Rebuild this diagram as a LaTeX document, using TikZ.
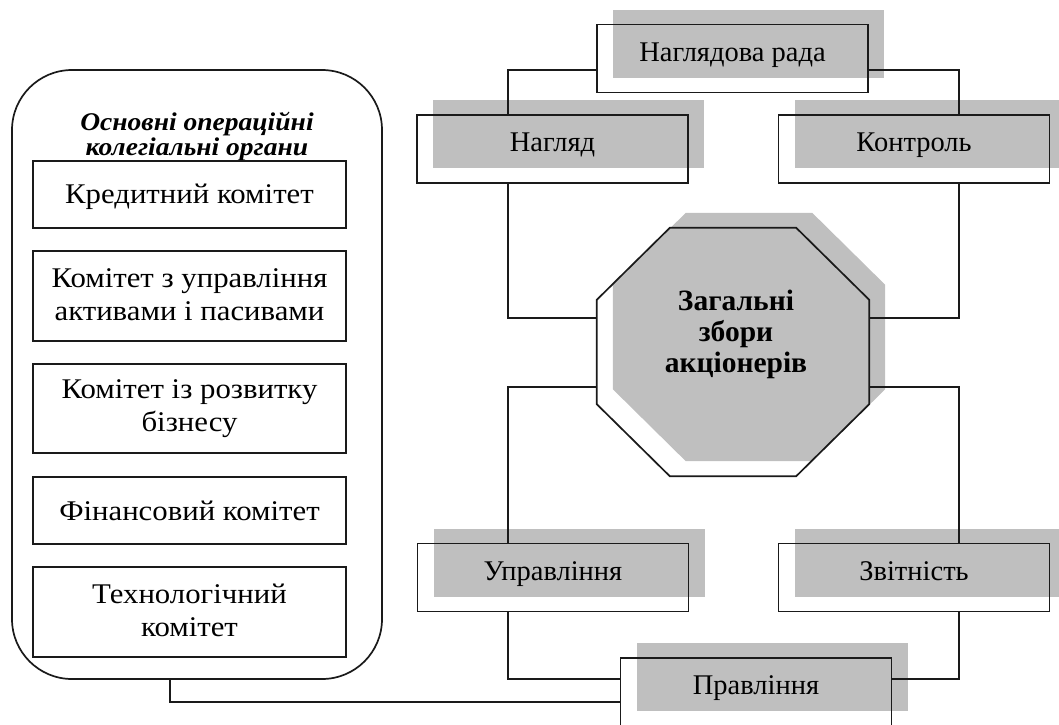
\documentclass[tikz,border=0pt]{standalone}
\usepackage{fontspec}
\setmainfont{Liberation Serif}
\newfontfamily\wideserif[FakeStretch=1.08]{Liberation Serif}
\usetikzlibrary{shadows}
\definecolor{ink}{HTML}{1A1A1A}
\definecolor{shade}{HTML}{BFBFBF}
\newcommand\kst{\rule[-3pt]{0pt}{26.5pt}}

\begin{document}
\begin{tikzpicture}[
  x=1pt,y=-1pt,
  font=\fontsize{28.5}{33}\selectfont,
  bord/.style={draw=ink,line width=1.7pt},
  shd/.style={general shadow={fill=shade,shadow xshift=16pt,shadow yshift=15pt}},
  rbox/.style={bord,shd,minimum width=271pt,minimum height=68pt,inner sep=0pt,
               text height=0.75em,text depth=0.23em},
  kbox/.style={bord,minimum width=313pt,inner sep=0pt,align=center,
               font=\wideserif\fontsize{28.5}{33}\selectfont,
               execute at begin node={\kst}},
  wire/.style={draw=ink,line width=1.7pt},
]
\useasboundingbox (0,0) rectangle (1059,724);

%--------------------------------------------------------- committees ---
\node[bord,rounded corners=60pt,minimum width=370pt,minimum height=609pt]
  (orgs) at (197,374.5) {};
\node[font=\wideserif\fontsize{25.5}{23}\selectfont\bfseries\itshape,align=center]
  (ttl) at (197,136.5) {Основні операційні\\колегіальні органи};
\foreach \nm/\y/\h/\txt in {
    k1/194.5/67/{Кредитний комітет},
    k2/296/90/{Комітет з управління\\\kst активами і пасивами},
    k3/408.5/89/{Комітет із розвитку\\\kst бізнесу},
    k4/510.5/67/{Фінансовий комітет},
    k5/612/90/{Технологічний\\\kst комітет}}{
  \node[kbox,minimum height=\h pt] (\nm) at (189.5,\y) {\txt};
}

%------------------------------------------------------------- boards ---
\node[rbox] (nrada) at (732.5,58.5) {Наглядова рада};
\node[rbox] (nahl)  at (552.5,149)  {Нагляд};
\node[rbox] (kontr) at (914,149)    {Контроль};
\node[rbox] (uprav) at (553,577.5)  {Управління};
\node[rbox] (zvit)  at (914,577.5)  {Звітність};
\node[rbox] (pravl) at (756,692)    {Правління};

%------------------------------------------------------------ octagon ---
\node[minimum width=272pt,minimum height=248pt,inner sep=0pt] (oct) at (733,352) {};
\draw[bord,shd]
  ([xshift=73pt]oct.north west) -- ([xshift=-73pt]oct.north east)
  -- ([yshift=-72pt]oct.north east) -- ([yshift=72pt]oct.south east)
  -- ([xshift=-73pt]oct.south east) -- ([xshift=73pt]oct.south west)
  -- ([yshift=72pt]oct.south west) -- ([yshift=-72pt]oct.north west) -- cycle;
\node[font=\fontsize{29.5}{31}\selectfont\bfseries,align=center] (zbory) at (736,334)
  {Загальні\\збори\\акціонерів};

%--------------------------------------------------------- connectors ---
\coordinate (busl) at (508,0);
\coordinate (busr) at (959,0);
\coordinate (busk) at (170,0);
\coordinate (hsup) at (0,70);
\coordinate (hup)  at (0,318);
\coordinate (hdn)  at (0,387);
\coordinate (hpr)  at (0,679);
\coordinate (hcom) at (0,702);

\draw[wire] (busl |- nahl.north) |- (hsup -| nrada.west);
\draw[wire] (busr |- kontr.north) |- (hsup -| nrada.east);
\draw[wire] (busl |- nahl.south) |- (hup -| oct.west);
\draw[wire] (busr |- kontr.south) |- (hup -| oct.east);
\draw[wire] (busl |- uprav.north) |- (hdn -| oct.west);
\draw[wire] (busr |- zvit.north) |- (hdn -| oct.east);
\draw[wire] (busl |- uprav.south) |- (hpr -| pravl.west);
\draw[wire] (busr |- zvit.south) |- (hpr -| pravl.east);
\draw[wire] (busk |- orgs.south) |- (hcom -| pravl.west);

\end{tikzpicture}
\end{document}
